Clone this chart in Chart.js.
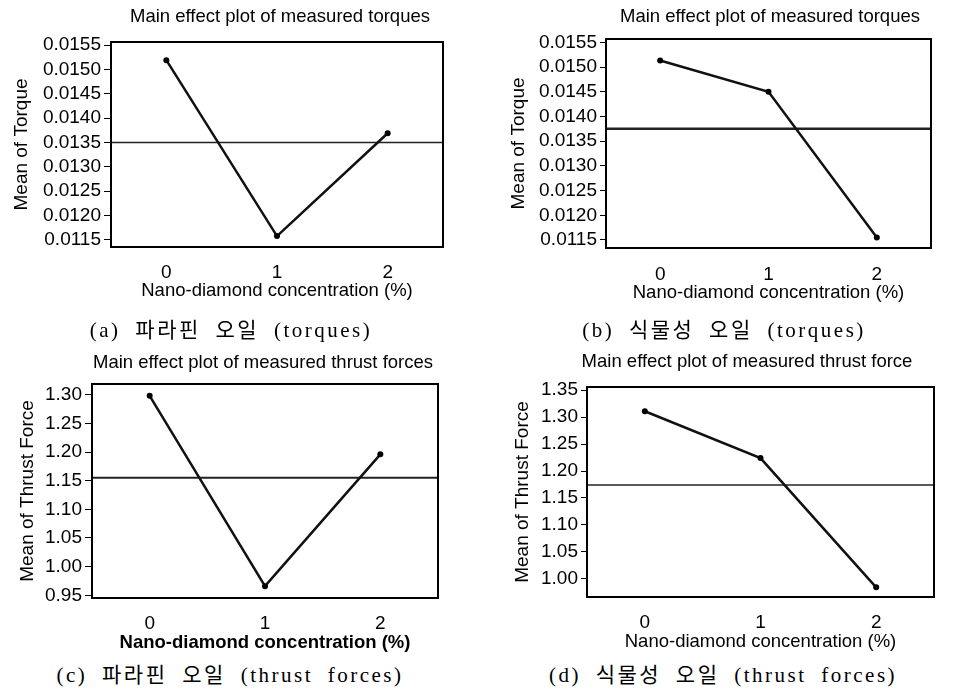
<!DOCTYPE html>
<html>
<head>
<meta charset="utf-8">
<script src="https://cdn.jsdelivr.net/npm/chart.js@4.4.1/dist/chart.umd.min.js"></script>
<style>
  html, body { margin: 0; padding: 0; background: #fff; width: 957px; height: 689px; overflow: hidden; }
  .panel { position: absolute; }
  .ttl, .cap { position: absolute; white-space: nowrap; color: #000; transform: translate(-50%, -50%); }
  .ttl { font-family: "Liberation Sans", Arial, sans-serif; font-size: 18.5px; }
  .cap { font-family: "Liberation Serif", "Noto Sans CJK KR", serif; font-size: 21px; letter-spacing: 2.5px; word-spacing: 7px; }
</style>
</head>
<body>
<div class="panel" id="pa"><canvas></canvas></div>
<div class="panel" id="pb"><canvas></canvas></div>
<div class="panel" id="pc"><canvas></canvas></div>
<div class="panel" id="pd"><canvas></canvas></div>

<div class="ttl" style="left:280px; top:16px;">Main effect plot of measured torques</div>
<div class="ttl" style="left:770px; top:16px;">Main effect plot of measured torques</div>
<div class="ttl" style="left:263px; top:362px;">Main effect plot of measured thrust forces</div>
<div class="ttl" style="left:747px; top:361px;">Main effect plot of measured thrust force</div>

<div class="cap" style="left:231px; top:328px;">(a) 파라핀 오일 (torques)</div>
<div class="cap" style="left:724px; top:328px;">(b) 식물성 오일 (torques)</div>
<div class="cap" style="left:230px; top:673px;">(c) 파라핀 오일 (thrust forces)</div>
<div class="cap" style="left:723px; top:673px;">(d) 식물성 오일 (thrust forces)</div>

<script>
// nano-diamond concentration levels (%)
const concentrations = ['0', '1', '2'];
const levels = [0, 1, 2];

// means
const torqueParaffin = [0.01519, 0.01158, 0.01369];
const torqueVegetable = [0.015135, 0.01450, 0.01155];
const thrustParaffin = [1.298, 0.966, 1.196];
const thrustVegetable = [1.311, 1.224, 0.984];

// grand mean reference lines
const grandMeans = [0.01350, 0.01375, 1.155, 1.174];

// tick labels
const torqueTicks = [0.0115, 0.0120, 0.0125, 0.0130, 0.0135, 0.0140, 0.0145, 0.0150, 0.0155];
const thrustTicksC = [0.95, 1.00, 1.05, 1.10, 1.15, 1.20, 1.25, 1.30];
const thrustTicksD = [1.00, 1.05, 1.10, 1.15, 1.20, 1.25, 1.30, 1.35];

const xMin = -0.5, xMax = 2.5;
const FONT = '"Liberation Sans", Arial, sans-serif';

// box around plot area
const framePlugin = {
  id: 'frame',
  afterDraw(chart) {
    const { ctx, chartArea: a } = chart;
    ctx.save();
    ctx.strokeStyle = '#000';
    ctx.lineWidth = 2;
    ctx.strokeRect(a.left, a.top, a.right - a.left, a.bottom - a.top);
    ctx.restore();
  }
};

function buildChart(id, p) {
  const wrap = document.getElementById(id);
  const [bx, by, bw, bh] = p.box;
  Object.assign(wrap.style, { left: bx + 'px', top: by + 'px', width: bw + 'px', height: bh + 'px' });

  const yTitleSize = 19, tickSize = 19, xTitleSize = 18.5;
  const padLeft = p.yTitleX - bx - 4 - yTitleSize * 1.2 / 2;
  const yWidth = p.plot.l - bx - padLeft;
  const padTop = p.plot.t - by;
  const padRight = bx + bw - p.plot.r;
  const xHeight = by + bh - p.plot.b;
  const xTickPad = p.xTickY - p.plot.b - tickSize * 1.2 / 2;
  const xTitlePadBottom = by + bh - p.xTitleY - xTitleSize * 1.2 / 2;

  new Chart(wrap.querySelector('canvas'), {
    type: 'line',
    data: {
      datasets: [{
        data: levels.map((x, i) => ({ x: x, y: p.values[i] })),
        borderColor: '#111',
        borderWidth: 2.5,
        pointRadius: 3,
        pointBackgroundColor: '#000',
        pointBorderWidth: 0,
        tension: 0
      }, {
        data: [{ x: xMin, y: p.mean }, { x: xMax, y: p.mean }],
        borderColor: '#222',
        borderWidth: p.meanWidth,
        pointRadius: 0
      }]
    },
    options: {
      responsive: true,
      maintainAspectRatio: false,
      animation: false,
      devicePixelRatio: 1,
      layout: { padding: { left: padLeft, top: padTop, right: padRight, bottom: 0 } },
      scales: {
        x: {
          type: 'linear',
          min: xMin,
          max: xMax,
          grid: { display: false },
          border: { display: false },
          afterBuildTicks: s => { s.ticks = levels.map(v => ({ value: v })); },
          afterFit: s => { s.height = xHeight; },
          ticks: {
            padding: xTickPad,
            color: '#000',
            autoSkip: false,
            font: { family: FONT, size: tickSize },
            callback: v => concentrations[levels.indexOf(v)]
          },
          title: {
            display: true,
            text: 'Nano-diamond concentration (%)',
            color: '#000',
            padding: { top: 0, bottom: xTitlePadBottom },
            font: { family: FONT, size: xTitleSize, weight: p.boldX ? 'bold' : 'normal' }
          }
        },
        y: {
          min: p.yMin,
          max: p.yMax,
          grid: { drawOnChartArea: false, drawTicks: true, tickLength: p.tickLen, color: '#000', lineWidth: 1 },
          border: { display: false },
          afterBuildTicks: s => { s.ticks = p.ticks.map(v => ({ value: v })); },
          afterFit: s => { s.width = yWidth; },
          ticks: {
            padding: 3,
            color: '#000',
            autoSkip: false,
            font: { family: FONT, size: tickSize },
            callback: v => v.toFixed(p.decimals)
          },
          title: {
            display: true,
            text: p.yLabel,
            color: '#000',
            padding: { top: 4, bottom: 0 },
            font: { family: FONT, size: yTitleSize }
          }
        }
      },
      plugins: {
        legend: { display: false },
        tooltip: { enabled: false }
      }
    },
    plugins: [framePlugin]
  });
}

buildChart('pa', {
  box: [0, 0, 478, 305], plot: { l: 111, r: 443, t: 42, b: 247 },
  yTitleX: 22, xTickY: 265, xTitleY: 291, tickLen: 7,
  values: torqueParaffin, mean: grandMeans[0], meanWidth: 1.5,
  yMin: 0.011356, yMax: 0.015562, ticks: torqueTicks, decimals: 4,
  yLabel: 'Mean of Torque'
});
buildChart('pb', {
  box: [480, 0, 477, 305], plot: { l: 606, r: 931, t: 39, b: 248 },
  yTitleX: 519, xTickY: 266.7, xTitleY: 293.3, tickLen: 6,
  values: torqueVegetable, mean: grandMeans[1], meanWidth: 2.5,
  yMin: 0.011338, yMax: 0.015569, ticks: torqueTicks, decimals: 4,
  yLabel: 'Mean of Torque'
});
buildChart('pc', {
  box: [0, 340, 478, 315], plot: { l: 92, r: 438, t: 384, b: 598 },
  yTitleX: 27.5, xTickY: 616, xTitleY: 642.7, tickLen: 7,
  values: thrustParaffin, mean: grandMeans[2], meanWidth: 2,
  yMin: 0.9453, yMax: 1.3187, ticks: thrustTicksC, decimals: 2,
  yLabel: 'Mean of Thrust Force', boldX: true
});
buildChart('pd', {
  box: [480, 340, 477, 315], plot: { l: 587, r: 934, t: 387, b: 597 },
  yTitleX: 522.5, xTickY: 615, xTitleY: 641.7, tickLen: 6,
  values: thrustVegetable, mean: grandMeans[3], meanWidth: 1.5,
  yMin: 0.966, yMax: 1.356, ticks: thrustTicksD, decimals: 2,
  yLabel: 'Mean of Thrust Force'
});
</script>
</body>
</html>
